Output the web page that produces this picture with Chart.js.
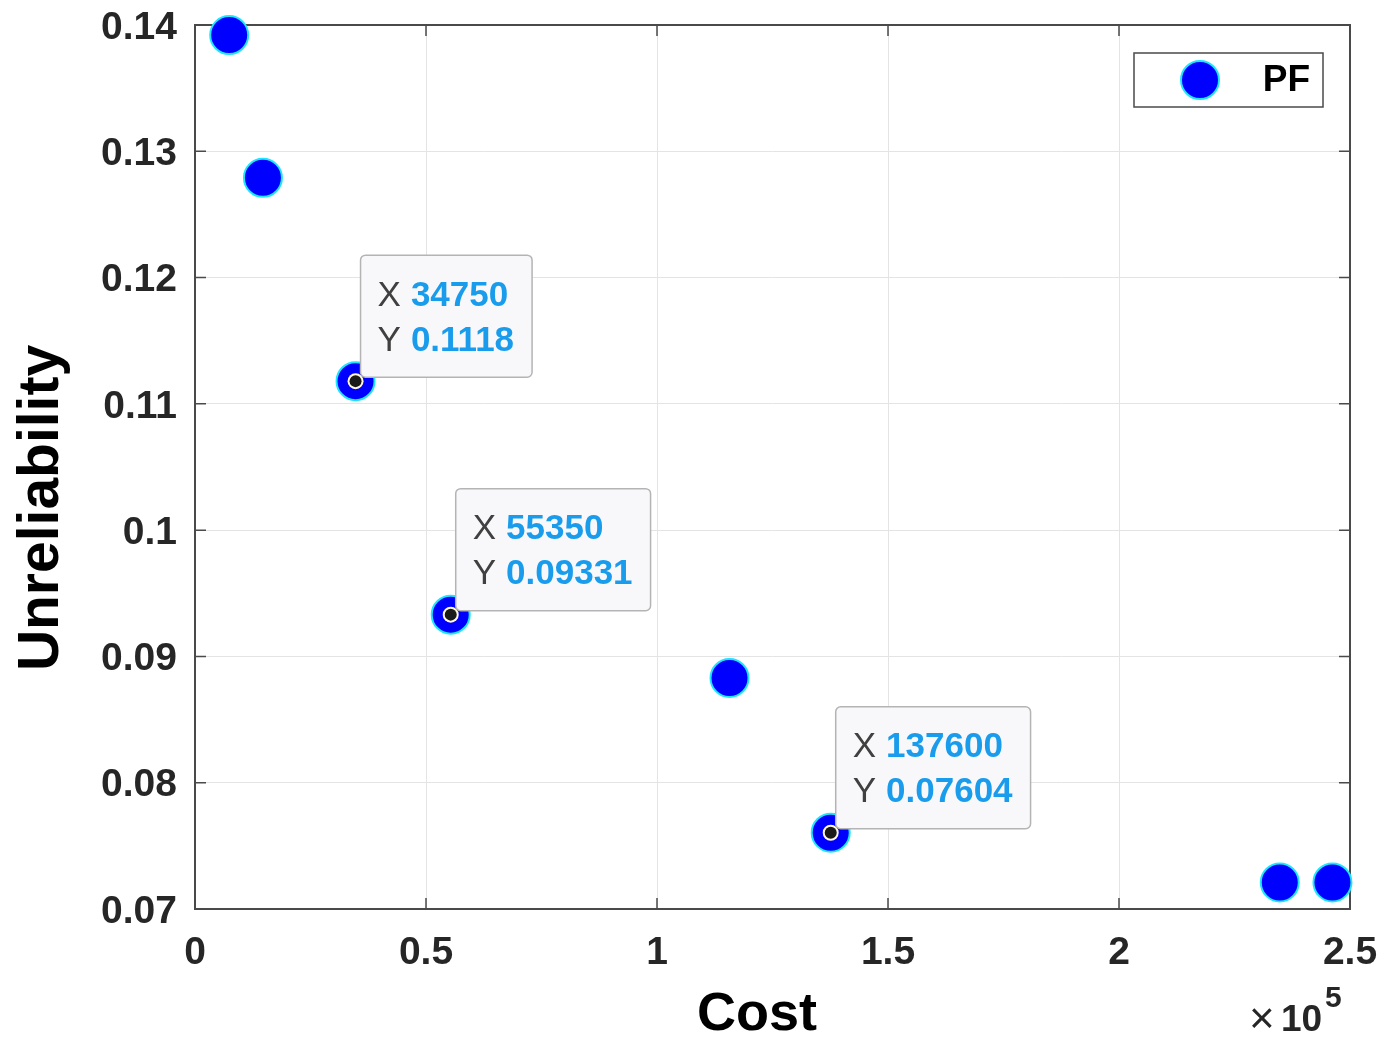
<!DOCTYPE html>
<html>
<head>
<meta charset="utf-8">
<title>PF - Cost vs Unreliability</title>
<script src="https://cdn.jsdelivr.net/npm/chart.js@4/dist/chart.umd.min.js"></script>
<style>
  html, body { margin: 0; padding: 0; background: #fff; }
  #wrap { width: 1396px; height: 1037px; }
</style>
</head>
<body>
<div id="wrap"><canvas id="pfChart" width="1396" height="1037"></canvas></div>
<script>
// Pareto front (cost, unreliability)
const costValues = [7400, 14700, 34750, 55350, 115700, 137600, 234800, 246200];
const unreliabilityValues = [0.1392, 0.1279, 0.1118, 0.09331, 0.0883, 0.07604, 0.0721, 0.0721];
// points that carry a data tip
const tipIndices = [2, 3, 5];

const xTickValues = [0, 50000, 100000, 150000, 200000, 250000];
const xTickLabels = ['0', '0.5', '1', '1.5', '2', '2.5'];
const yTickValues = [0.07, 0.08, 0.09, 0.10, 0.11, 0.12, 0.13, 0.14];
const yTickLabels = ['0.07', '0.08', '0.09', '0.1', '0.11', '0.12', '0.13', '0.14'];

const FONT = '"Liberation Sans", Arial, Helvetica, sans-serif';
const AXIS_COLOR = '#262626';
const MARKER_FILL = '#0000ff';
const MARKER_EDGE = '#1ee6ff';

function nearestIdx(arr, v) {
  let best = 0;
  arr.forEach((a, i) => { if (Math.abs(a - v) < Math.abs(arr[best] - v)) best = i; });
  return best;
}

// --- frame, inward ticks, data tips, legend, axis titles ---
const matlabLook = {
  id: 'matlabLook',
  beforeDatasetsDraw(chart) {
    const { ctx, chartArea: a, scales } = chart;
    ctx.save();
    ctx.strokeStyle = '#4a4a4a';
    ctx.lineWidth = 2;
    ctx.strokeRect(a.left, a.top, a.right - a.left, a.bottom - a.top);
    // inward ticks on all four sides
    ctx.lineWidth = 1.5;
    xTickValues.forEach(v => {
      const px = scales.x.getPixelForValue(v);
      ctx.beginPath();
      ctx.moveTo(px, a.bottom); ctx.lineTo(px, a.bottom - 11);
      ctx.moveTo(px, a.top); ctx.lineTo(px, a.top + 11);
      ctx.stroke();
    });
    yTickValues.forEach(v => {
      const py = scales.y.getPixelForValue(v);
      ctx.beginPath();
      ctx.moveTo(a.left, py); ctx.lineTo(a.left + 11, py);
      ctx.moveTo(a.right, py); ctx.lineTo(a.right - 11, py);
      ctx.stroke();
    });
    ctx.restore();
  },
  afterDatasetsDraw(chart) {
    const { ctx, chartArea: a, scales } = chart;
    ctx.save();

    // data tips
    tipIndices.forEach(i => {
      const px = scales.x.getPixelForValue(costValues[i]);
      const py = scales.y.getPixelForValue(unreliabilityValues[i]);

      // selected point marker
      ctx.beginPath();
      ctx.arc(px, py, 8, 0, Math.PI * 2);
      ctx.fillStyle = '#fff8dc';
      ctx.fill();
      ctx.beginPath();
      ctx.arc(px, py, 6, 0, Math.PI * 2);
      ctx.fillStyle = '#1a1a1a';
      ctx.fill();

      const xs = String(costValues[i]);
      const ys = String(unreliabilityValues[i]);
      ctx.font = '35px ' + FONT;
      const lblW = ctx.measureText('X').width;
      ctx.font = 'bold 35px ' + FONT;
      const valW = Math.max(ctx.measureText(xs).width, ctx.measureText(ys).width);
      const bx = px + 5;
      const bh = 122;
      const by = py - 4 - bh;
      const bw = 17 + lblW + 10 + valW + 18;

      ctx.beginPath();
      ctx.roundRect(bx, by, bw, bh, 5);
      ctx.fillStyle = '#f8f8fb';
      ctx.fill();
      ctx.strokeStyle = '#b4b4b4';
      ctx.lineWidth = 1.5;
      ctx.stroke();

      ctx.textBaseline = 'middle';
      ctx.textAlign = 'left';
      ctx.fillStyle = '#404040';
      ctx.font = '35px ' + FONT;
      ctx.fillText('X', bx + 17, by + 41);
      ctx.fillText('Y', bx + 17, by + 86);
      ctx.fillStyle = '#1a9cec';
      ctx.font = 'bold 35px ' + FONT;
      ctx.fillText(xs, bx + 17 + lblW + 10, by + 41);
      ctx.fillText(ys, bx + 17 + lblW + 10, by + 86);
    });

    // legend (top right, inside axes)
    const ds = chart.data.datasets[0];
    const lw = 189, lh = 54;
    const lx = a.right - 27 - lw, ly = a.top + 28;
    ctx.fillStyle = '#ffffff';
    ctx.fillRect(lx, ly, lw, lh);
    ctx.strokeStyle = '#4a4a4a';
    ctx.lineWidth = 1.5;
    ctx.strokeRect(lx, ly, lw, lh);
    ctx.beginPath();
    ctx.arc(lx + 66, ly + lh / 2, ds.pointRadius, 0, Math.PI * 2);
    ctx.fillStyle = ds.backgroundColor;
    ctx.fill();
    ctx.strokeStyle = ds.borderColor;
    ctx.lineWidth = ds.pointBorderWidth;
    ctx.stroke();
    ctx.fillStyle = '#000';
    ctx.font = 'bold 37px ' + FONT;
    ctx.textAlign = 'right';
    ctx.textBaseline = 'middle';
    ctx.fillText(ds.label, lx + lw - 13, ly + lh / 2 + 1);

    // axis titles
    ctx.fillStyle = '#000';
    ctx.font = 'bold 54px ' + FONT;
    ctx.textAlign = 'center';
    ctx.textBaseline = 'alphabetic';
    ctx.fillText('Cost', 757, 1030);

    ctx.save();
    ctx.translate(58, 508);
    ctx.rotate(-Math.PI / 2);
    ctx.font = 'bold 57px ' + FONT;
    ctx.fillText('Unreliability', 0, 0);
    ctx.restore();

    // exponent label
    ctx.fillStyle = AXIS_COLOR;
    ctx.textAlign = 'left';
    ctx.font = '44px ' + FONT;
    ctx.fillText('\u00d7', 1249, 1033);
    ctx.font = 'bold 37px ' + FONT;
    ctx.fillText('10', 1281, 1031);
    ctx.font = 'bold 30px ' + FONT;
    ctx.fillText('5', 1325, 1007);

    ctx.restore();
  }
};

const ctx = document.getElementById('pfChart').getContext('2d');
const pfChart = new Chart(ctx, {
  type: 'scatter',
  data: {
    datasets: [{
      label: 'PF',
      data: costValues.map((c, i) => ({ x: c, y: unreliabilityValues[i] })),
      backgroundColor: MARKER_FILL,
      borderColor: MARKER_EDGE,
      pointRadius: 19,
      pointHoverRadius: 19,
      pointBorderWidth: 2,
      clip: false
    }]
  },
  options: {
    responsive: false,
    devicePixelRatio: 1,
    animation: false,
    events: [],
    layout: { padding: { left: 0, top: 25, right: 46, bottom: 0 } },
    plugins: {
      legend: { display: false },
      tooltip: { enabled: false }
    },
    scales: {
      x: {
        type: 'linear',
        min: 0,
        max: 250000,
        afterBuildTicks: s => { s.ticks = xTickValues.map(v => ({ value: v })); },
        afterFit: s => { s.height = 128; s.paddingLeft = 0; s.paddingRight = 0; },
        ticks: {
          padding: 21,
          color: AXIS_COLOR,
          font: { family: FONT, size: 39, weight: 'bold' },
          maxRotation: 0,
          callback: v => xTickLabels[nearestIdx(xTickValues, v)]
        },
        grid: { color: '#e4e4e4', lineWidth: 1, drawTicks: false },
        border: { display: false }
      },
      y: {
        type: 'linear',
        min: 0.07,
        max: 0.14,
        afterBuildTicks: s => { s.ticks = yTickValues.map(v => ({ value: v })); },
        afterFit: s => { s.width = 195; s.paddingTop = 0; s.paddingBottom = 0; },
        ticks: {
          padding: 18,
          labelOffset: 3,
          color: AXIS_COLOR,
          font: { family: FONT, size: 39, weight: 'bold' },
          callback: v => yTickLabels[nearestIdx(yTickValues, v)]
        },
        grid: { color: '#e4e4e4', lineWidth: 1, drawTicks: false },
        border: { display: false }
      }
    }
  },
  plugins: [matlabLook]
});
</script>
</body>
</html>
